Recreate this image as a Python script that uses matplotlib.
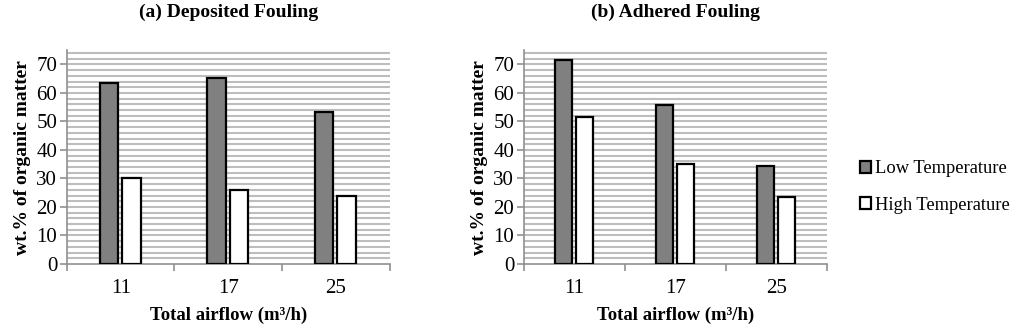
import matplotlib.pyplot as plt
import numpy as np

plt.rcParams['font.family'] = ['Liberation Serif', 'DejaVu Serif']

airflow = ['11', '17', '25']
series = ['Low Temperature', 'High Temperature']
deposited_low = [63.5, 65.2, 53.3]
deposited_high = [30.0, 26.0, 24.0]
adhered_low = [71.5, 55.7, 34.3]
adhered_high = [51.7, 35.2, 23.5]

fig = plt.figure(figsize=(10.24, 3.3), dpi=100)
ax_a = fig.add_axes([0.0654, 0.2, 0.315, 0.648])
ax_b = fig.add_axes([0.5117, 0.2, 0.296, 0.648])


def draw_panel(ax, low, high, title):
    x = np.arange(len(airflow))
    ax.set_axisbelow(True)
    for v in np.arange(2, 75, 2):
        ax.axhline(v, color='#bdbdbd', lw=1.5, zorder=0)
    b1 = ax.bar(x - 0.11, low, width=0.17, color='#808080', edgecolor='black',
                lw=1.6, label=series[0], zorder=3)
    b2 = ax.bar(x + 0.10, high, width=0.17, color='white', edgecolor='black',
                lw=1.6, label=series[1], zorder=3)
    ax.set_xlim(-0.5, 2.5)
    ax.set_ylim(0, 75)
    ax.set_yticks(np.arange(0, 71, 10))
    ax.set_xticks(x)
    ax.set_xticklabels(airflow)
    ax.set_xticks([-0.5, 0.5, 1.5, 2.5], minor=True)
    ax.tick_params(axis='x', which='major', length=0, labelsize=15, pad=11)
    ax.tick_params(axis='x', which='minor', length=5, color='#909090', width=1.2)
    ax.tick_params(axis='y', length=5, color='#909090', width=1.2, labelsize=15, pad=2)
    for s in ['top', 'right']:
        ax.spines[s].set_visible(False)
    for s in ['left', 'bottom']:
        ax.spines[s].set_color('#909090')
        ax.spines[s].set_linewidth(1.2)
    ax.set_ylabel('wt.% of organic matter', fontsize=14, fontweight='bold', labelpad=4)
    ax.set_xlabel('Total airflow (m³/h)', fontsize=13.5, fontweight='bold', labelpad=6)
    ax.set_title(title, fontsize=14, fontweight='bold', pad=24)
    return b1, b2


draw_panel(ax_a, deposited_low, deposited_high, '(a) Deposited Fouling')
h = draw_panel(ax_b, adhered_low, adhered_high, '(b) Adhered Fouling')

fig.legend(h, series, loc='upper left', bbox_to_anchor=(0.824, 0.565),
           frameon=False, fontsize=13.3, handlelength=0.6, handleheight=0.6,
           handletextpad=0.2, labelspacing=1.05)

fig.savefig('out.png', dpi=100)
